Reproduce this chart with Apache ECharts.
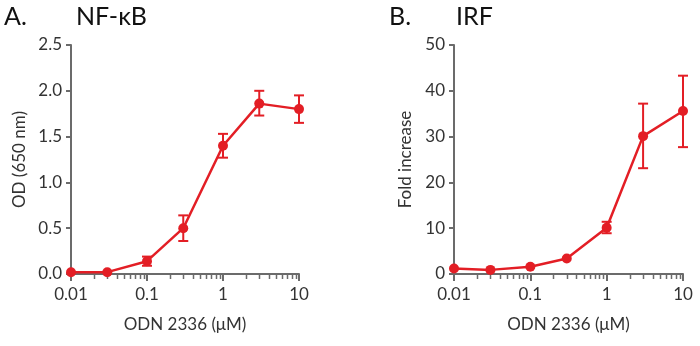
<!DOCTYPE html>
<html><head><meta charset="utf-8">
<script src="https://cdn.jsdelivr.net/npm/echarts@6/dist/echarts.min.js"></script>
<style>html,body{margin:0;padding:0;background:#fff}#c{width:700px;height:346px}</style>
</head><body><div id="c"></div>
<script>
var doses = [0.01, 0.03, 0.1, 0.3, 1, 3, 10];
var nfkbMean = [0.02, 0.02, 0.14, 0.50, 1.40, 1.86, 1.80];
var nfkbLow  = [0.02, 0.02, 0.09, 0.36, 1.27, 1.73, 1.65];
var nfkbHigh = [0.02, 0.02, 0.19, 0.64, 1.53, 2.00, 1.95];
var irfMean = [1.2, 0.9, 1.6, 3.4, 10.1, 30.1, 35.6];
var irfLow  = [1.2, 0.9, 1.6, 3.4, 8.9, 23.1, 27.7];
var irfHigh = [1.2, 0.9, 1.6, 3.4, 11.4, 37.2, 43.3];
var xTickLabels = ['0.01', '0.1', '1', '10'];
var minorTicks = [0.02,0.03,0.04,0.05,0.06,0.07,0.08,0.09,0.2,0.3,0.4,0.5,0.6,0.7,0.8,0.9,2,3,4,5,6,7,8,9];

var RED = '#e31e25';
var AX = '#6b6b6b';
var FONT = 'Lato';

var chart = echarts.init(document.getElementById('c'));

function xAxis(gi) {
  return {
    type: 'log', logBase: 10, min: 0.01, max: 10, gridIndex: gi,
    name: 'ODN 2336 (μM)', nameLocation: 'middle', nameGap: 42,
    nameTextStyle: {fontFamily: FONT, fontSize: 17, color: '#333'},
    axisLine: {lineStyle: {color: AX, width: 2}},
    axisTick: {length: 7, lineStyle: {color: AX, width: 2}},
    axisLabel: {fontFamily: FONT, fontSize: 17, color: '#333', margin: 12,
      formatter: function (v) { var s = String(+v.toPrecision(3)); return xTickLabels.indexOf(s) >= 0 ? s : ''; }},
    splitLine: {show: false}, minorTick: {show: false}
  };
}
function yAxis(gi, max, interval, name, gap, dec) {
  return {
    type: 'value', min: 0, max: max, interval: interval, gridIndex: gi,
    name: name, nameLocation: 'middle', nameGap: gap, nameRotate: 90,
    nameTextStyle: {fontFamily: FONT, fontSize: 17, color: '#333'},
    axisLine: {show: true, lineStyle: {color: AX, width: 2}},
    axisTick: {show: true, length: 5, lineStyle: {color: AX, width: 2}},
    axisLabel: {fontFamily: FONT, fontSize: 17, color: '#333', margin: 9,
      formatter: function (v) { return v.toFixed(dec); }},
    splitLine: {show: false}
  };
}
function pts(mean) { return doses.map(function (d, i) { return [d, mean[i]]; }); }
function errData(low, high) { return doses.map(function (d, i) { return [d, low[i], high[i]]; }); }

function errorSeries(gi, low, high) {
  return {
    type: 'custom', xAxisIndex: gi, yAxisIndex: gi, z: 3,
    data: errData(low, high),
    renderItem: function (params, api) {
      var lo = api.coord([api.value(0), api.value(1)]);
      var hi = api.coord([api.value(0), api.value(2)]);
      if (Math.abs(lo[1] - hi[1]) < 8) return null;
      var w = 5;
      var st = {stroke: RED, lineWidth: 2};
      return {type: 'group', children: [
        {type: 'line', shape: {x1: lo[0], y1: lo[1], x2: hi[0], y2: hi[1]}, style: st},
        {type: 'line', shape: {x1: lo[0]-w, y1: lo[1], x2: lo[0]+w, y2: lo[1]}, style: st},
        {type: 'line', shape: {x1: hi[0]-w, y1: hi[1], x2: hi[0]+w, y2: hi[1]}, style: st}
      ]};
    }
  };
}
function minorSeries(gi) {
  return {
    type: 'custom', xAxisIndex: gi, yAxisIndex: gi, clip: false, silent: true, z: 1,
    data: minorTicks.map(function (m) { return [m, 0]; }),
    renderItem: function (params, api) {
      var p = api.coord([api.value(0), 0]);
      var x = Math.round(p[0]) + 0.5;
      return {type: 'line', shape: {x1: x, y1: p[1], x2: x, y2: p[1] + 5},
        style: {stroke: AX, lineWidth: 1.5}};
    }
  };
}
function lineSeries(gi, mean) {
  return {
    type: 'line', xAxisIndex: gi, yAxisIndex: gi, data: pts(mean), z: 4,
    symbol: 'circle', symbolSize: 10, clip: false,
    lineStyle: {color: RED, width: 2.5}, itemStyle: {color: RED}
  };
}
var TS = {fontFamily: FONT, fontSize: 25, fontWeight: 'normal', color: '#111'};
chart.setOption({
  animation: false,
  backgroundColor: '#fff',
  title: [
    {text: 'A.', left: 4, top: 4, padding: 0, textStyle: TS},
    {text: 'NF-κB', left: 76, top: 4, padding: 0, textStyle: TS},
    {text: 'B.', left: 389, top: 4, padding: 0, textStyle: TS},
    {text: 'IRF', left: 456, top: 4, padding: 0, textStyle: TS}
  ],
  grid: [
    {left: 71, top: 45, width: 228, height: 229},
    {left: 454, top: 45, width: 229, height: 229}
  ],
  xAxis: [xAxis(0), xAxis(1)],
  yAxis: [yAxis(0, 2.5, 0.5, 'OD (650 nm)', 43, 1), yAxis(1, 50, 10, 'Fold increase', 40, 0)],
  series: [
    minorSeries(0), minorSeries(1),
    errorSeries(0, nfkbLow, nfkbHigh), errorSeries(1, irfLow, irfHigh),
    lineSeries(0, nfkbMean), lineSeries(1, irfMean)
  ]
});
</script></body></html>
